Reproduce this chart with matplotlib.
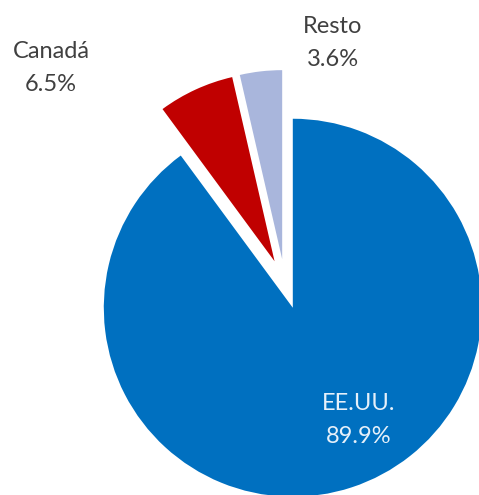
import matplotlib.pyplot as plt
import matplotlib

matplotlib.use("Agg")
plt.rcParams["font.family"] = ["Lato", "DejaVu Sans"]

paises = ["EE.UU.", "Canadá", "Resto"]
porcentajes = [89.9, 6.5, 3.6]
colores = ["#0070C0", "#C00000", "#A9B6DC"]

fig = plt.figure(figsize=(4.79, 4.95), dpi=100)
ax = fig.add_axes([0, 0, 1, 1])

# pie in pixel-like units, every slice pulled out a bit (like excel)
ax.pie(porcentajes, colors=colores, startangle=90, counterclock=False,
       center=(285, 211), radius=189, explode=[25, 25, 25],
       wedgeprops={"linewidth": 0}, frame=True)
ax.set_xlim(0, 479)
ax.set_ylim(0, 495)
ax.set_aspect("equal")
ax.axis("off")

etiquetas = ["{}\n{:.1f}%".format(p, v) for p, v in zip(paises, porcentajes)]
pos_etiquetas = [(359, 75), (51, 427), (333, 452)]
color_txt = ["#E6F0FA", "#404040", "#404040"]
for txt, (x, y), c in zip(etiquetas, pos_etiquetas, color_txt):
    ax.text(x, y, txt, ha="center", va="center", fontsize=17,
            color=c, linespacing=1.65)

plt.savefig("out.png", dpi=100)
